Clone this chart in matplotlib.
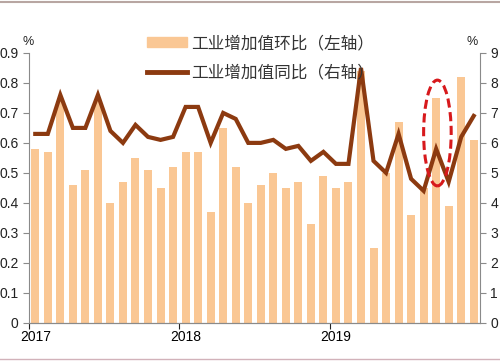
import numpy as np
import matplotlib
matplotlib.use('Agg')
import matplotlib.pyplot as plt
from matplotlib.patches import Ellipse, Patch
from matplotlib.lines import Line2D

plt.rcParams['font.family'] = ['Liberation Sans Narrow', 'Liberation Sans', 'DejaVu Sans']

# monthly data, Jan 2017 - Dec 2019
years = ['2017', '2018', '2019']
mom = [0.58, 0.57, 0.74, 0.46, 0.51, 0.74, 0.40, 0.47, 0.55, 0.51, 0.45, 0.52,
       0.57, 0.57, 0.37, 0.65, 0.52, 0.40, 0.46, 0.50, 0.45, 0.47, 0.33, 0.49,
       0.45, 0.47, 0.84, 0.25, 0.50, 0.67, 0.36, 0.45, 0.75, 0.39, 0.82, 0.61]
yoy = [6.3, 6.3, 7.6, 6.5, 6.5, 7.6, 6.4, 6.0, 6.6, 6.2, 6.1, 6.2,
       7.2, 7.2, 6.0, 7.0, 6.8, 6.0, 6.0, 6.1, 5.8, 5.9, 5.4, 5.7,
       5.3, 5.3, 8.5, 5.4, 5.0, 6.3, 4.8, 4.4, 5.8, 4.7, 6.2, 6.9]
label_mom = '工业增加值环比（左轴）'
label_yoy = '工业增加值同比（右轴）'

bar_color = '#FAC794'
line_color = '#8C3A10'
axis_color = '#8A8A8A'
text_color = '#222222'

x = np.arange(len(mom))

fig = plt.figure(figsize=(5, 3.62), dpi=100)
ax = fig.add_axes([0.058, 0.1086, 0.902, 0.745])
ax2 = ax.twinx()

ax.bar(x, mom, width=0.64, color=bar_color, zorder=2)
ax2.plot(x, yoy, color=line_color, lw=3, solid_joinstyle='miter', zorder=3)

# red dashed highlight
ax2.add_patch(Ellipse((32.1, 6.33), 2.2, 3.53, fill=False, ec='#D7191C',
                      lw=2.2, ls=(0, (3, 1.5)), zorder=4))

ax.set_xlim(-0.5, len(mom) - 0.5)
ax.set_ylim(0, 0.9)
ax2.set_ylim(0, 9)
ax.set_yticks(np.arange(0, 0.91, 0.1))
ax.set_yticklabels(['0'] + ['%.1f' % v for v in np.arange(0.1, 0.91, 0.1)])
ax2.set_yticks(range(10))

# year ticks at boundaries, labels under january
ax.set_xticks([-0.5, 11.5, 23.5])
ax.set_xticklabels([])
ax.set_xticks([0, 12, 24], minor=True)
ax.set_xticklabels(years, minor=True)
ax.tick_params(axis='x', which='minor', length=0, pad=5)
ax.tick_params(axis='x', which='major', length=4, color=axis_color)

for a in (ax, ax2):
    a.spines['top'].set_visible(False)
    for s in ('left', 'right', 'bottom'):
        a.spines[s].set_color(axis_color)
    a.tick_params(labelsize=10, colors=text_color, width=0.8)
    a.tick_params(axis='y', length=4, color=axis_color)
ax2.spines['left'].set_visible(False)
ax.spines['right'].set_visible(False)

fig.text(28 / 500, 1 - 42 / 362, '%', ha='center', va='center', fontsize=9, color=text_color)
fig.text(472 / 500, 1 - 42 / 362, '%', ha='center', va='center', fontsize=9, color=text_color)

handles = [Patch(color=bar_color), Line2D([], [], color=line_color, lw=3.5)]
fig.legend(handles, [label_mom, label_yoy], loc='upper left',
           bbox_to_anchor=(139 / 500, 1 - 27 / 362), frameon=False,
           prop={'family': ['Noto Sans CJK SC', 'DejaVu Sans'], 'size': 12},
           labelcolor='#333333', handlelength=2.4, handleheight=0.55,
           handletextpad=0.25, labelspacing=0.75, borderpad=0)

# thin frame lines of the original picture
fig.add_artist(Line2D([0, 1], [1 - 1.5 / 362, 1 - 1.5 / 362], color='#B8A6A2', lw=1.5))
fig.add_artist(Line2D([0, 1], [3 / 362, 3 / 362], color='#D2B2BA', lw=1))

fig.savefig('out.png', dpi=100)
